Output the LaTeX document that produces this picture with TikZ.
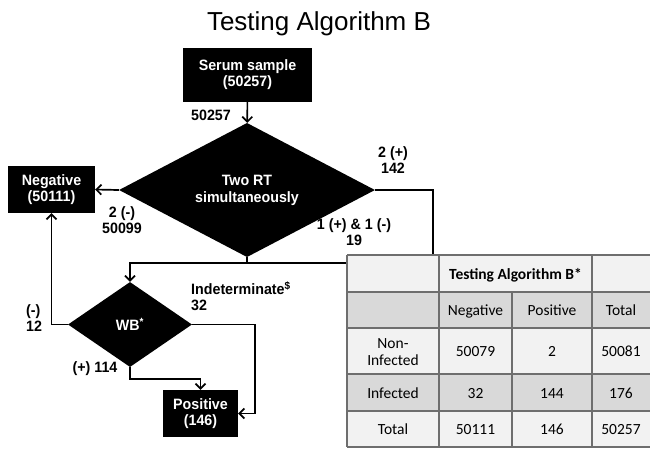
\documentclass[tikz,border=0pt]{standalone}
\usepackage{fontspec}
\setmainfont{Liberation Sans}
\newfontfamily\chartfont[FakeStretch=0.95]{Liberation Sans}
\newfontfamily\tabfont[RawFeature=+lnum]{Carlito}
\usetikzlibrary{shapes.geometric,arrows.meta}
\definecolor{cellA}{HTML}{F2F2F2}
\definecolor{cellB}{HTML}{D9D9D9}
\definecolor{rulegray}{HTML}{6E6E6E}

\begin{document}
\begin{tikzpicture}[x=1pt,y=-1pt,
		>={Straight Barb[length=5pt,width=10pt]},
		flow/.style={line width=1.7pt},
		box/.style={fill=black,text=white,inner sep=0pt,align=center,
			font=\chartfont\bfseries\fontsize{15}{16.5}\selectfont},
		choice/.style={diamond,fill=black,text=white,inner sep=0pt,align=center,
			font=\chartfont\bfseries\fontsize{15}{17}\selectfont},
		lbl/.style={inner sep=0pt,align=center,font=\chartfont\bfseries\fontsize{15}{16}\selectfont},
		cell/.style={inner sep=0pt,anchor=base,font=\tabfont\fontsize{15.5}{17}\selectfont}]
			\useasboundingbox (0,0) rectangle (650,448);
			\node[anchor=base] (title) at (319,30) {\fontsize{26}{30}\selectfont Testing Algorithm B};
			
			% flow chart
			\node[box,minimum width=129pt,minimum height=54pt] (serum) at (247.5,74.5) {Serum sample\\(50257)};
			\node[choice,minimum width=256pt,minimum height=106pt] (two) at (247,190) {Two RT\\simultaneously};
			\node[box,minimum width=87pt,minimum height=47pt] (neg) at (51.5,189.5) {Negative\\(50111)};
			\node[choice,minimum width=124pt,minimum height=85pt] (wb) at (130,324.5) {WB\textsuperscript{*}};
			\node[box,minimum width=75pt,minimum height=47pt] (pos) at (200.5,413.5) {Positive\\(146)};
			
			\coordinate (r1) at (433,190);
			\coordinate (r2) at (433,275);
			\coordinate (j1) at (247,263);
			\coordinate (j2) at (365,263);
			\coordinate (m1) at (130,379);
			\coordinate (k1) at (255,413.5);
			
			\draw [->,flow] (serum) -- (two);
			\draw [->,flow] (two.west) -- (neg.east);
			\draw [flow] (two.east) -- (r1) -- (r2);
			\draw [flow] (two.south) -- (j1) -- (j2);
			\draw [->,flow] (j1) -| (wb.north);
			\draw [->,flow] (wb.west) -| (neg.south);
			\draw [->,flow] (wb.east) -| (k1) -- (pos.east);
			\draw [->,flow] (wb.south) -- (m1) -| (pos.north);
			
			\node[lbl] (l1) at (211,115) {50257};
			\node[lbl] (l2) at (122,220.5) {2 (-)\\50099};
			\node[lbl] (l3) at (393,160.5) {2 (+)\\142};
			\node[lbl] (l4) at (354,232.5) {1 (+) \& 1 (-)\\19};
			\node[lbl,anchor=west,align=left] (l5) at (26,318) {(-)\\12};
			\node[lbl,anchor=west,align=left] (l6) at (191,296) {Indeterminate\textsuperscript{\$}\\32};
			\node[lbl] (l7) at (95,369) {(+) 114};
			
			% table
			\foreach \ya/\yb/\c in {255/292/cellA,292/328/cellB,328/374/cellA,374/411/cellB,411/447/cellA}
				\fill [\c] (347,\ya) rectangle (655,\yb);
			\foreach \y in {255,292,328,374,411,447}
				\draw [rulegray,line width=1.4pt] (347,\y) -- (655,\y);
			\foreach \x in {347,439,592}
				\draw [rulegray,line width=1.4pt] (\x,255) -- (\x,447);
			\draw [rulegray,line width=1.4pt] (512,292) -- (512,447);
			
			\node[cell,font=\tabfont\bfseries\fontsize{15.5}{17}\selectfont] (head) at (515.5,279) {Testing Algorithm B*};
			\node[cell] (hneg) at (475.5,315.5) {Negative};
			\node[cell] (hpos) at (552,315.5) {Positive};
			\node[cell] (htot) at (621,315.5) {Total};
			\node[cell,anchor=center,align=center,font=\tabfont\fontsize{15.5}{16.5}\selectfont] (non0) at (393,352) {Non-\\Infected};
			\node[cell] (inf0) at (393,398) {Infected};
			\node[cell] (tot0) at (393,434.5) {Total};
			\foreach \r/\y/\b/\c/\d in {non/356.5/50079/2/50081,inf/398/32/144/176,tot/434.5/50111/146/50257}{
				\node[cell] (\r1) at (475.5,\y) {\b};
				\node[cell] (\r2) at (552,\y) {\c};
				\node[cell] (\r3) at (621,\y) {\d};
			}
\end{tikzpicture}
\end{document}
